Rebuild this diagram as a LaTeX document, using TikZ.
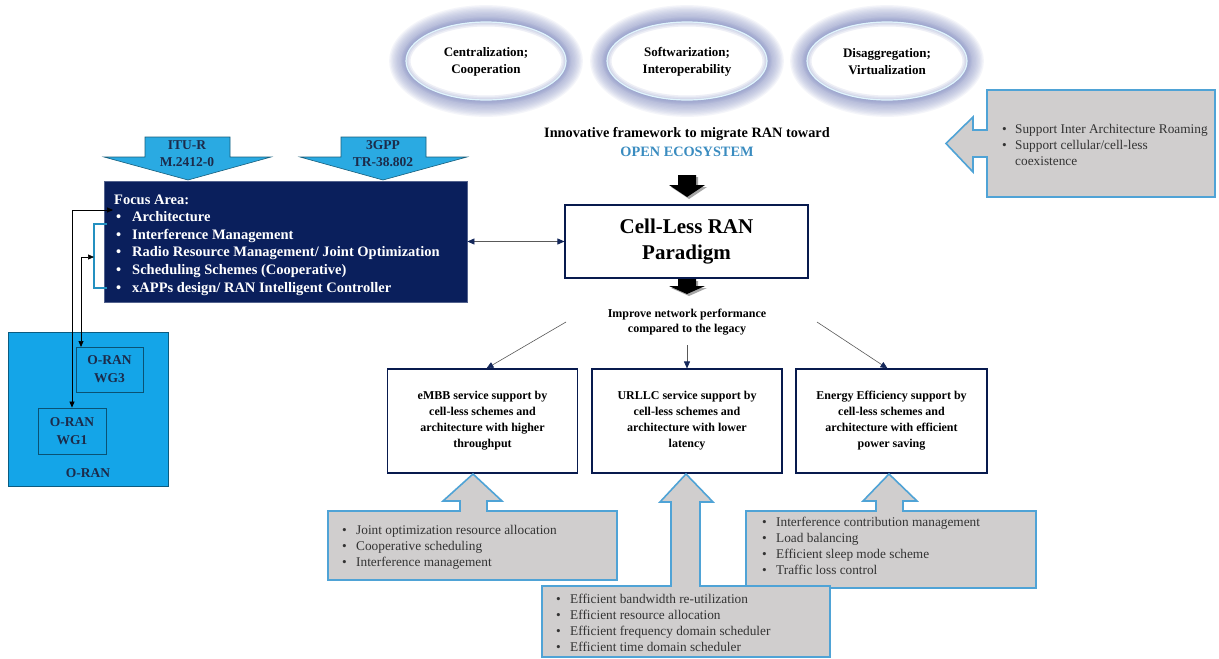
\documentclass[tikz,border=0pt]{standalone}
\usepackage{fontspec}
\setmainfont{Liberation Serif}
\usetikzlibrary{arrows.meta,calc}

\definecolor{navybox}{HTML}{0A1F5C}
\definecolor{oranblue}{HTML}{14A5E8}
\definecolor{arrowblue}{HTML}{2AAAE2}
\definecolor{callgray}{HTML}{D0CECE}
\definecolor{callline}{HTML}{4FA3D6}
\definecolor{glowc}{HTML}{8E98C8}
\definecolor{ecoblue}{HTML}{3A8CC0}
\definecolor{darktext}{HTML}{1C2B4A}
\definecolor{tipnavy}{HTML}{14275A}

\newcommand{\fsz}[2]{\fontsize{#1}{#2}\selectfont}

% soft halo ring around a white ellipse, centred at (#1,#2)
\newcommand{\haloring}[2]{%
  \foreach \k in {0,...,13}{%
    \pgfmathsetmacro\rx{80+1.3*\k}\pgfmathsetmacro\ry{39+1.3*\k}%
    \fill[glowc,opacity=0.09] (#1,#2) ellipse (\rx pt and \ry pt);}
  \fill[white] (#1,#2) ellipse (80pt and 39pt);
  \foreach \w in {3,6,9}{\draw[glowc,opacity=0.15,line width=\w pt] (#1,#2) ellipse (80pt and 39pt);}
  \draw[cyan!12!white,line width=1.2pt] (#1,#2) ellipse (80pt and 39pt);
}

\begin{document}
\begin{tikzpicture}[x=1pt,y=-1pt,
  callout/.style={fill=callgray,draw=callline,line width=1.6pt,line join=miter},
  blockdown/.style={fill=arrowblue,draw=arrowblue!55!black,line width=0.6pt},
  wbox/.style={draw=navybox!85!black,line width=1.1pt,fill=white,align=center,inner sep=0,
    font=\bfseries\fsz{12}{16}},
  conn/.style={draw=black!65,line width=0.6pt,-{Triangle[length=7pt,width=6pt,color=tipnavy]}},
  biconn/.style={draw=black!65,line width=0.6pt,
    {Triangle[length=7pt,width=6pt,color=tipnavy]}-{Triangle[length=7pt,width=6pt,color=tipnavy]}},
  link/.style={draw=black,line width=0.7pt,{Triangle[length=6pt,width=5pt]}-{Triangle[length=6pt,width=5pt]}},
  list/.style={anchor=base west,inner sep=0,text=black!80,font=\fsz{13.3}{16}},
  oranbox/.style={fill=oranblue,draw=oranblue!55!black,line width=0.9pt},
  oransub/.style={fill=oranblue,draw=oranblue!50!black,line width=0.9pt,align=center,inner sep=0,
    text=darktext,font=\bfseries\fsz{13.5}{18}},
  halotext/.style={align=center,font=\bfseries\fsz{13}{17}},
  blackarrow/.style={fill=black},
  arrowshade/.style={fill=black!35}
]
\useasboundingbox (0,0) rectangle (1219,659);
\fill[white] (0,0) rectangle (1219,659);

% ---- three guiding principles ----
\haloring{486}{61}
\haloring{687}{61}
\haloring{887}{61}
\node[halotext] (cent) at (486,61.5) {Centralization;\\Cooperation};
\node[halotext] (soft) at (687,61.5) {Softwarization;\\Interoperability};
\node[halotext] (disg) at (887,61.5) {Disaggregation;\\Virtualization};

% ---- standards feeding the focus area ----
\filldraw[blockdown] (145,137) -- (230,137) -- (230,157) -- (271,157) -- (188,180)
  -- (104,157) -- (145,157) -- cycle;
\filldraw[blockdown] (341,137) -- (426,137) -- (426,157) -- (467,157) -- (383,180)
  -- (300,157) -- (341,157) -- cycle;
\node[align=center,text=darktext,font=\bfseries\fsz{13.5}{17}] (itu) at (187,153.5) {ITU-R\\M.2412-0};
\node[align=center,text=darktext,font=\bfseries\fsz{13.5}{17}] (tgpp) at (383,153.5) {3GPP\\TR-38.802};

% ---- focus area ----
\node[fill=navybox,draw=navybox!70!white,line width=0.8pt,minimum width=363,minimum height=121,inner sep=0]
  (focus) at (285.5,241.5) {};
\node[anchor=base west,inner sep=0,text=white,font=\bfseries\fsz{14.5}{17.6}] (focuslist) at (114,204)
  {\begin{tabular}[t]{@{}p{18pt}@{}l@{}}
   \multicolumn{2}{@{}l@{}}{Focus Area:}\\
   \hspace*{2pt}\textbullet & Architecture\\
   \hspace*{2pt}\textbullet & Interference Management\\
   \hspace*{2pt}\textbullet & Radio Resource Management/ Joint Optimization\\
   \hspace*{2pt}\textbullet & Scheduling Schemes (Cooperative)\\
   \hspace*{2pt}\textbullet & xAPPs design/ RAN Intelligent Controller
   \end{tabular}};
\draw[draw=arrowblue!85!black,line width=1.5pt] (107,224) -- (94,224) -- (94,288) -- (107,288);

% ---- O-RAN working groups ----
\node[oranbox,minimum width=160,minimum height=154,inner sep=0] (oran) at (88,409) {};
\node[oransub,minimum width=67,minimum height=45] (wg3) at (109.5,369.5) {O-RAN\\WG3};
\node[oransub,minimum width=68,minimum height=46] (wg1) at (72,431) {O-RAN\\WG1};
\node[text=darktext,font=\bfseries\fsz{13.5}{18}] (oranlbl) at (88,473) {O-RAN};

\coordinate (archpt) at (113,210);
\coordinate (brk) at (94,257);
\coordinate (wg3in) at (81,347);
\draw[link] (archpt) -| (wg1.north);
\draw[link] (brk) -| (wg3in);

% ---- central paradigm ----
\node[font=\bfseries\fsz{14.3}{18}] (innov) at (687,134) {Innovative framework to migrate RAN toward};
\node[font=\bfseries\fsz{14.3}{18},text=ecoblue] (eco) at (687,152) {OPEN ECOSYSTEM};

\fill[arrowshade,shift={(2,2)}] (678,175) -- (696,175) -- (696,185) -- (705,185) -- (687,197)
  -- (669,185) -- (678,185) -- cycle;
\fill[blackarrow] (678,175) -- (696,175) -- (696,185) -- (705,185) -- (687,197)
  -- (669,185) -- (678,185) -- cycle;

\node[wbox,minimum width=243,minimum height=73,font=\bfseries\fsz{21}{26}] (cell) at (686.5,241.5)
  {Cell-Less RAN\\Paradigm};

\fill[arrowshade,shift={(2,2)}] (678,279) -- (696,279) -- (696,286) -- (705,286) -- (687,294)
  -- (669,286) -- (678,286) -- cycle;
\fill[blackarrow] (678,279) -- (696,279) -- (696,286) -- (705,286) -- (687,294)
  -- (669,286) -- (678,286) -- cycle;

\draw[biconn] (focus.east) -- (focus.east -| cell.west);

\node[align=center,font=\bfseries\fsz{12}{14.5}] (improve) at (687,322)
  {Improve network performance\\compared to the legacy};

% ---- service boxes ----
\node[wbox,minimum width=190,minimum height=104] (embb) at (482.5,421)
  {eMBB service support by\\cell-less schemes and\\architecture with higher\\throughput};
\node[wbox,minimum width=190,minimum height=104] (urllc) at (687,421)
  {URLLC service support by\\cell-less schemes and\\architecture with lower\\latency};
\node[wbox,minimum width=191,minimum height=104] (energy) at (891.5,421)
  {Energy Efficiency support by\\cell-less schemes and\\architecture with efficient\\power saving};

\coordinate (impl) at (566,322);
\coordinate (impc) at (687,345);
\coordinate (impr) at (817,322);
\draw[conn] (impl) -- ($(embb.north)+(4,0)$);
\draw[conn] (impc) -- (urllc.north);
\draw[conn] (impr) -- ($(energy.north)+(-4,0)$);

% ---- enabling techniques (callouts) ----
\filldraw[callout] (328,511) -- (460,511) -- (460,501) -- (443,501) -- (473,474) -- (502,501)
  -- (487,501) -- (487,511) -- (617,511) -- (617,580) -- (328,580) -- cycle;
\node[list] (embblist) at (342,534.5)
  {\begin{tabular}[t]{@{}p{14pt}@{}l@{}}
   \textbullet & Joint optimization resource allocation\\
   \textbullet & Cooperative scheduling\\
   \textbullet & Interference management
   \end{tabular}};

\filldraw[callout] (746,511) -- (876,511) -- (876,501) -- (863,501) -- (889,474) -- (917,501)
  -- (903,501) -- (903,511) -- (1036,511) -- (1036,588) -- (746,588) -- cycle;
\node[list] (energylist) at (762,526.5)
  {\begin{tabular}[t]{@{}p{14pt}@{}l@{}}
   \textbullet & Interference contribution management\\
   \textbullet & Load balancing\\
   \textbullet & Efficient sleep mode scheme\\
   \textbullet & Traffic loss control
   \end{tabular}};

\filldraw[callout] (542,586) -- (671,586) -- (671,502) -- (660,502) -- (686,474) -- (713,502)
  -- (700,502) -- (700,586) -- (830,586) -- (830,657) -- (542,657) -- cycle;
\node[list] (urllclist) at (556,603.5)
  {\begin{tabular}[t]{@{}p{14pt}@{}l@{}}
   \textbullet & Efficient bandwidth re-utilization\\
   \textbullet & Efficient resource allocation\\
   \textbullet & Efficient frequency domain scheduler\\
   \textbullet & Efficient time domain scheduler
   \end{tabular}};

\filldraw[callout] (987,90) -- (1215,90) -- (1215,197) -- (987,197) -- (987,157) -- (973,157)
  -- (973,172) -- (946,143.5) -- (973,117) -- (973,130) -- (987,130) -- cycle;
\node[list] (roamlist) at (1002,133.5)
  {\begin{tabular}[t]{@{}p{13pt}@{}l@{}}
   \textbullet & Support Inter Architecture Roaming\\
   \textbullet & Support cellular/cell-less\\
   & coexistence
   \end{tabular}};
\end{tikzpicture}
\end{document}
